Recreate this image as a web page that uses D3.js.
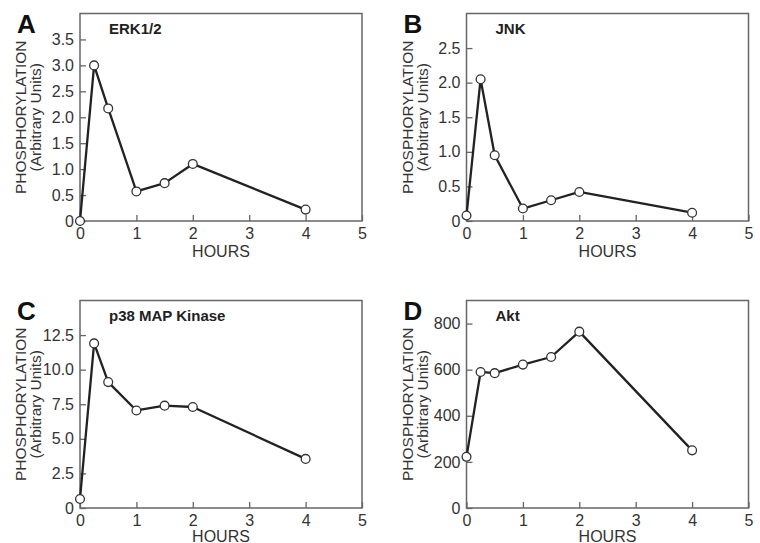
<!DOCTYPE html>
<html>
<head>
<meta charset="utf-8">
<script src="https://cdn.jsdelivr.net/npm/d3@7"></script>
<style>
  html, body { margin: 0; padding: 0; background: #fff; }
  svg { display: block; }
  text { font-family: "Liberation Sans", Arial, Helvetica, sans-serif; }
</style>
</head>
<body>
<svg id="chart" width="760" height="543"></svg>
<script>
// ---- data ----
const hours = [0, 0.25, 0.5, 1, 1.5, 2, 4];
const xTicks = [0, 1, 2, 3, 4, 5];

const erkValues = [0, 3.0, 2.17, 0.57, 0.73, 1.1, 0.22];
const jnkValues = [0.08, 2.05, 0.95, 0.18, 0.3, 0.42, 0.12];
const p38Values = [0.65, 11.9, 9.1, 7.05, 7.4, 7.3, 3.55];
const aktValues = [222, 590, 585, 622, 655, 765, 250];

const erkTicks = [0, 0.5, 1.0, 1.5, 2.0, 2.5, 3.0, 3.5];
const jnkTicks = [0, 0.5, 1.0, 1.5, 2.0, 2.5];
const p38Ticks = [0, 2.5, 5.0, 7.5, 10.0, 12.5];
const aktTicks = [0, 200, 400, 600, 800];

const panelLetters = ["A", "B", "C", "D"];
const panelTitles = ["ERK1/2", "JNK", "p38 MAP Kinase", "Akt"];
const yMaxes = [4, 3, 15, 900];
const yLabel1 = "PHOSPHORYLATION";
const yLabel2 = "(Arbitrary Units)";
const xLabel = "HOURS";

const panels = [
  { letter: panelLetters[0], title: panelTitles[0], values: erkValues, ticks: erkTicks, yMax: yMaxes[0], fmt: d => d === 0 ? "0" : d3.format(".1f")(d) },
  { letter: panelLetters[1], title: panelTitles[1], values: jnkValues, ticks: jnkTicks, yMax: yMaxes[1], fmt: d => d === 0 ? "0" : d3.format(".1f")(d) },
  { letter: panelLetters[2], title: panelTitles[2], values: p38Values, ticks: p38Ticks, yMax: yMaxes[2], fmt: d => d === 0 ? "0" : d3.format(".1f")(d) },
  { letter: panelLetters[3], title: panelTitles[3], values: aktValues, ticks: aktTicks, yMax: yMaxes[3], fmt: d => String(d) }
];

// ---- layout ----
const frameLefts = [80, 466.5, 80, 466.5];
const frameTops = [13.5, 13.5, 300.5, 300.5];
const xLabelOffsets = [36, 36, 33.5, 33.5];
const frameW = 282, frameH = 207.5;

const svg = d3.select("#chart");
const textColor = "#333";
const frameColor = "#666";

panels.forEach((p, i) => {
  const L = frameLefts[i], T = frameTops[i];
  const g = svg.append("g").attr("transform", `translate(${L},${T})`);

  const x = d3.scaleLinear().domain([0, 5]).range([0, frameW]);
  const y = d3.scaleLinear().domain([0, p.yMax]).range([frameH, 0]);

  // frame
  g.append("rect")
    .attr("x", 0).attr("y", 0).attr("width", frameW).attr("height", frameH)
    .attr("fill", "none").attr("stroke", frameColor).attr("stroke-width", 1.5);

  // x axis
  const xa = g.append("g").attr("transform", `translate(0,${frameH})`)
    .call(d3.axisBottom(x).tickValues(xTicks).tickFormat(d3.format("d")).tickSizeInner(-6).tickSizeOuter(0).tickPadding(7));
  xa.select(".domain").remove();
  xa.selectAll(".tick line").attr("stroke", frameColor).attr("stroke-width", 1.3);
  xa.selectAll(".tick text").attr("fill", textColor).style("font-size", "16px");

  // y axis
  const ya = g.append("g")
    .call(d3.axisLeft(y).tickValues(p.ticks).tickFormat(p.fmt).tickSizeInner(-6).tickSizeOuter(0).tickPadding(6));
  ya.select(".domain").remove();
  ya.selectAll(".tick line").attr("stroke", frameColor).attr("stroke-width", 1.3);
  ya.selectAll(".tick text").attr("fill", textColor).style("font-size", "16px");

  // line
  const pts = hours.map((h, k) => [h, p.values[k]]);
  g.append("path")
    .datum(pts)
    .attr("fill", "none")
    .attr("stroke", "#222")
    .attr("stroke-width", 2.3)
    .attr("stroke-linejoin", "round")
    .attr("d", d3.line().x(d => x(d[0])).y(d => y(d[1])));

  g.selectAll("circle.pt").data(pts).enter().append("circle")
    .attr("class", "pt")
    .attr("cx", d => x(d[0])).attr("cy", d => y(d[1]))
    .attr("r", 4.4)
    .attr("fill", "#fff").attr("stroke", "#333").attr("stroke-width", 1.3);

  // title inside
  g.append("text")
    .attr("x", 29).attr("y", 20)
    .attr("fill", "#222")
    .style("font-size", "15px").style("font-weight", "bold")
    .text(p.title);

  // x label
  g.append("text")
    .attr("x", frameW / 2).attr("y", frameH + xLabelOffsets[i])
    .attr("text-anchor", "middle")
    .attr("fill", textColor).style("font-size", "16px")
    .text(xLabel);

  // y label (two lines)
  const cy = frameH / 2;
  g.append("text")
    .attr("transform", `translate(${-54},${cy}) rotate(-90)`)
    .attr("text-anchor", "middle")
    .attr("fill", textColor).style("font-size", "15.5px")
    .text(yLabel1);
  g.append("text")
    .attr("transform", `translate(${-39},${cy}) rotate(-90)`)
    .attr("text-anchor", "middle")
    .attr("fill", textColor).style("font-size", "15.5px")
    .text(yLabel2);

  // panel letter
  g.append("text")
    .attr("x", -63).attr("y", 19.5)
    .attr("fill", "#111")
    .style("font-size", "26px").style("font-weight", "bold")
    .text(p.letter);
});
</script>
</body>
</html>
